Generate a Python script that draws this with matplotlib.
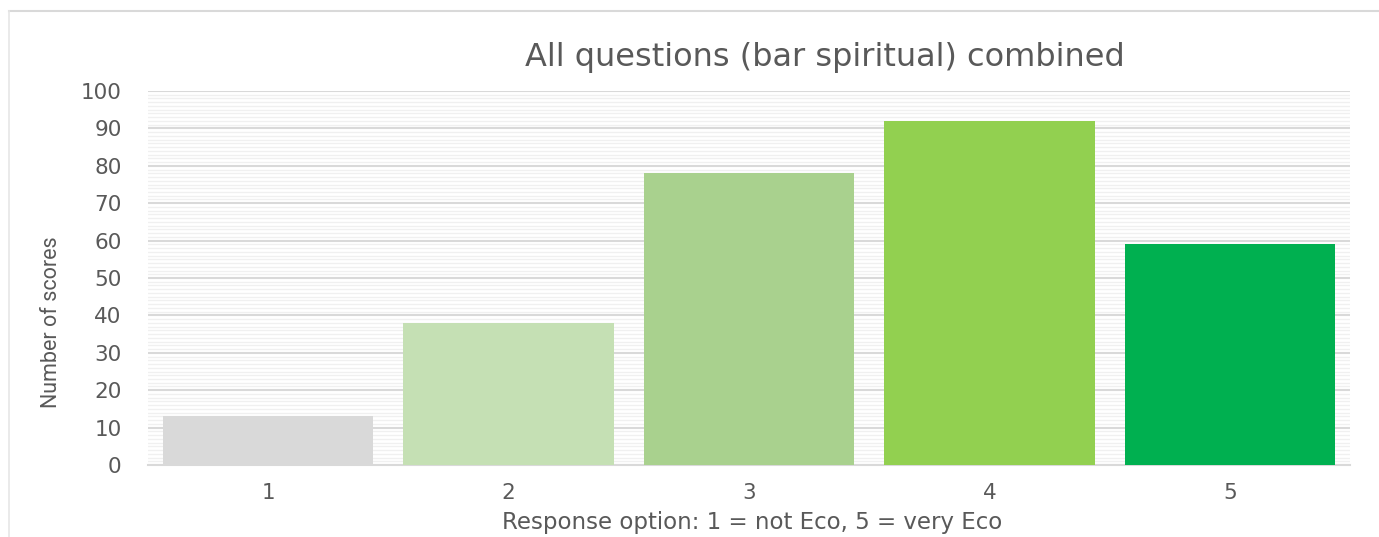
import matplotlib.pyplot as plt
from matplotlib.lines import Line2D
from matplotlib.ticker import MultipleLocator

# du lieu doc tu hinh
categories = ['1', '2', '3', '4', '5']
scores = [13, 38, 78, 92, 59]
bar_colors = ['#D9D9D9', '#C5E0B4', '#A9D18E', '#92D050', '#00B050']

title_text = 'All questions (bar spiritual) combined'
xlabel_text = 'Response option: 1 = not Eco, 5 = very Eco'
ylabel_text = 'Number of scores'

text_color = '#595959'
plt.rcParams['font.family'] = ['DejaVu Sans']

fig = plt.figure(figsize=(13.79, 5.37), dpi=100)
W, H = 1379, 537

# khung vien cua bieu do (chi thay canh tren va canh trai)
fig.lines.append(Line2D([9 / W, 1.0], [1 - 11 / H, 1 - 11 / H],
                        transform=fig.transFigure, color='#D9D9D9', lw=1.5))
fig.lines.append(Line2D([9 / W, 9 / W], [0.0, 1 - 11 / H],
                        transform=fig.transFigure, color='#E6E6E6', lw=1.2))

ax = fig.add_axes([148 / W, 1 - 465 / H, (1350 - 148) / W, (465 - 91) / H])

x = range(len(categories))
ax.bar(x, scores, width=0.875, color=bar_colors, zorder=3)

ax.set_xlim(-0.5, len(categories) - 0.5)
ax.set_ylim(0, 100)
ax.set_xticks(list(x))
ax.set_xticklabels(categories)
ax.yaxis.set_major_locator(MultipleLocator(10))
ax.yaxis.set_minor_locator(MultipleLocator(1))

ax.grid(axis='y', which='major', color='#D9D9D9', linewidth=1.5, zorder=1)
ax.grid(axis='y', which='minor', color='#F0F0F0', linewidth=1.0, zorder=0)

for s in ['top', 'right', 'left']:
    ax.spines[s].set_visible(False)
ax.spines['bottom'].set_color('#D9D9D9')
ax.spines['bottom'].set_linewidth(1.5)

ax.tick_params(axis='both', which='both', length=0, colors=text_color,
               labelsize=15.5)
ax.tick_params(axis='y', pad=19)
ax.tick_params(axis='x', pad=13)

fig.text(825 / W, 1 - 57 / H, title_text, ha='center', va='center',
         fontsize=23, color=text_color)
fig.text(752 / W, 1 - 522 / H, xlabel_text, ha='center', va='center',
         fontsize=16.5, color=text_color)
fig.text(52 / W, 1 - 322 / H, ylabel_text, ha='center', va='center',
         rotation=90, fontsize=15.5, color=text_color,
         family=['Roboto', 'DejaVu Sans'])

fig.savefig('out.png', dpi=100)
